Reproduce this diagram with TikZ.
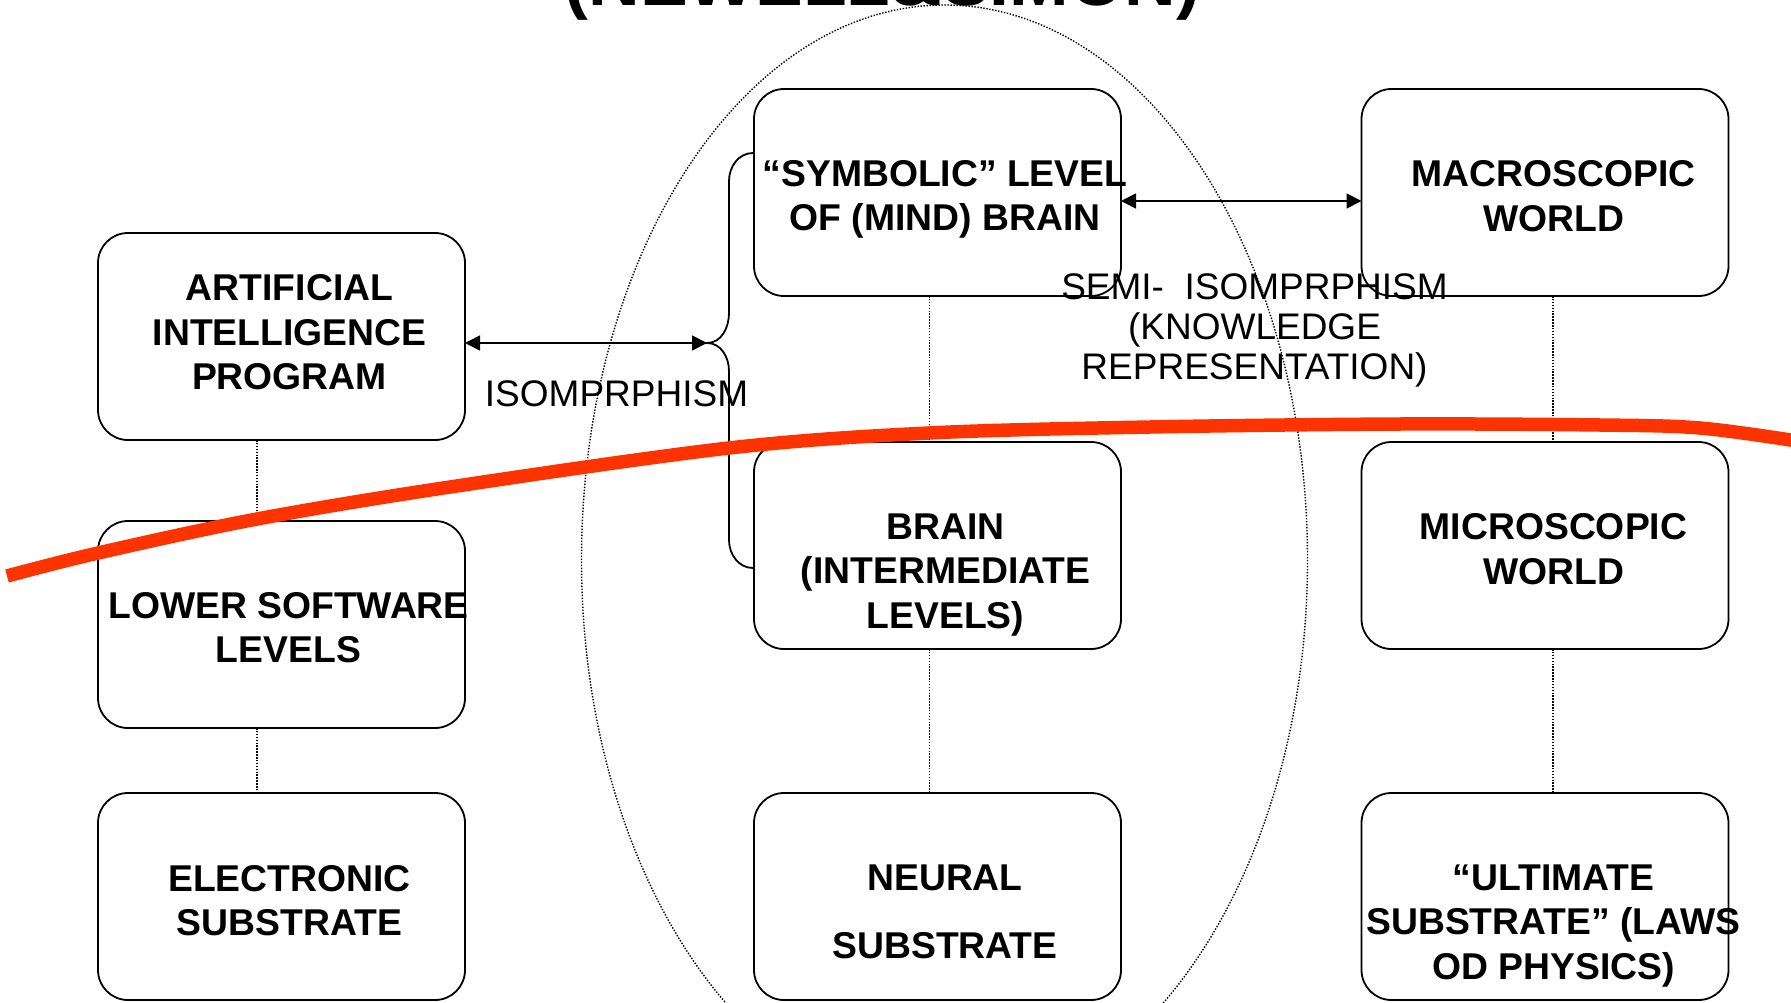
\documentclass[tikz,border=0pt]{standalone}
\usepackage{fontspec}
\setmainfont{Liberation Sans}
\usetikzlibrary{arrows.meta}
\definecolor{cutred}{RGB}{255,51,0}

\begin{document}
\begin{tikzpicture}[x=1pt,y=-1pt,
  levelbox/.style={draw=black, line width=1.8pt, rounded corners=30pt,
    minimum width=367pt, minimum height=207pt, inner sep=0pt, outer sep=0pt},
  boxtext/.style={font=\bfseries\fontsize{37.3}{44.5}\selectfont, align=center, inner sep=0pt},
  plaintext/.style={font=\fontsize{37}{40}\selectfont, align=center, inner sep=0pt},
  link/.style={line width=1.5pt, dash pattern=on 1.5pt off 1.4pt},
  ring/.style={line width=1.4pt, dash pattern=on 1.4pt off 1.6pt},
  iso/.style={line width=1.8pt,
    {Triangle[length=15pt,width=15pt]}-{Triangle[length=15pt,width=15pt]}},
  cut/.style={draw=cutred, line width=13.5pt},
]
\useasboundingbox (0,0) rectangle (1791,1003);
\clip (0,0) rectangle (1791,1003);

% heading, mostly above the page edge
\node[font=\bfseries\fontsize{71.5}{80}\selectfont, anchor=base, inner sep=0pt]
  (title) at (882.5,6) {(NEWELL\&SIMON)};

% dotted ellipse grouping the brain column
\draw[ring] (944.5,560) ellipse [x radius=363, y radius=555];

% level boxes
\node[levelbox] (ai)     at (281.5,336.5) {};
\node[levelbox] (lsw)    at (281.5,624.5) {};
\node[levelbox] (elec)   at (281.5,896.5) {};
\node[levelbox] (sym)    at (937.5,192.5) {};
\node[levelbox] (brain)  at (937.5,545.5) {};
\node[levelbox] (neural) at (937.5,896.5) {};
\node[levelbox] (mac)    at (1545,192.5) {};
\node[levelbox] (mic)    at (1545,545.5) {};
\node[levelbox] (ult)    at (1545,896.5) {};

% box captions
\node[boxtext] (ai-t)     at (289.5,332.5) {ARTIFICIAL\\INTELLIGENCE\\PROGRAM};
\node[boxtext] (lsw-t)    at (288.5,627.5) {LOWER SOFTWARE\\LEVELS};
\node[boxtext] (elec-t)   at (289.5,900.5) {ELECTRONIC\\SUBSTRATE};
\node[boxtext] (sym-t)    at (945,199.5)   {“SYMBOLIC” LEVEL\\OF (MIND) BRAIN};
\node[boxtext] (brain-t)  at (945.5,575)   {BRAIN\\(INTERMEDIATE\\LEVELS)};
\node[boxtext, font=\bfseries\fontsize{37.3}{68}\selectfont]
               (neural-t) at (945,912)     {NEURAL\\SUBSTRATE};
\node[boxtext] (mac-t)    at (1553.5,196)  {MACROSCOPIC\\WORLD};
\node[boxtext] (mic-t)    at (1553.5,549)  {MICROSCOPIC\\WORLD};
\node[boxtext] (ult-t)    at (1553.5,926)  {“ULTIMATE\\SUBSTRATE” (LAWS\\OD PHYSICS)};

% dotted links between levels
\draw[link] ([xshift=-24.5pt]ai.south)    -- ([xshift=-24.5pt]lsw.north);
\draw[link] ([xshift=-24.5pt]lsw.south)   -- ([xshift=-24.5pt]elec.north);
\draw[link] ([xshift=-8pt]sym.south)      -- ([xshift=-8pt]brain.north);
\draw[link] ([xshift=-8pt]brain.south)    -- ([xshift=-8pt]neural.north);
\draw[link] ([xshift=8pt]mac.south)       -- ([xshift=8pt]mic.north);
\draw[link] ([xshift=8pt]mic.south)       -- ([xshift=8pt]ult.north);

% brace joining the symbolic and brain levels
\coordinate (bt) at (707,343);
\draw[line width=1.8pt] (753,153) to[out=180,in=90] (729,181) -- (729,313)
  to[out=-90,in=0] (bt) to[out=0,in=90] (729,371) -- (729,540)
  to[out=-90,in=180] (753,568);

% isomorphism arrows
\draw[iso] (ai.east |- bt) -- (bt);
\draw[iso] ([yshift=-8.5pt]sym.east) -- ([yshift=-8.5pt]mac.west);

\node[plaintext] (iso-t)  at (616.5,393.5) {ISOMPRPHISM};
\node[plaintext] (semi-t) at (1254.5,330.4)
  {SEMI-\ \ ISOMPRPHISM\\(KNOWLEDGE\\REPRESENTATION)};

% red dividing curve
\draw[cut] plot[smooth, tension=0.55] coordinates {
  (7,576) (98,553) (257,519) (450,487) (729,448) (929,433)
  (1150,427) (1400,424) (1600,425) (1700,428) (1797,441)};
\end{tikzpicture}
\end{document}
